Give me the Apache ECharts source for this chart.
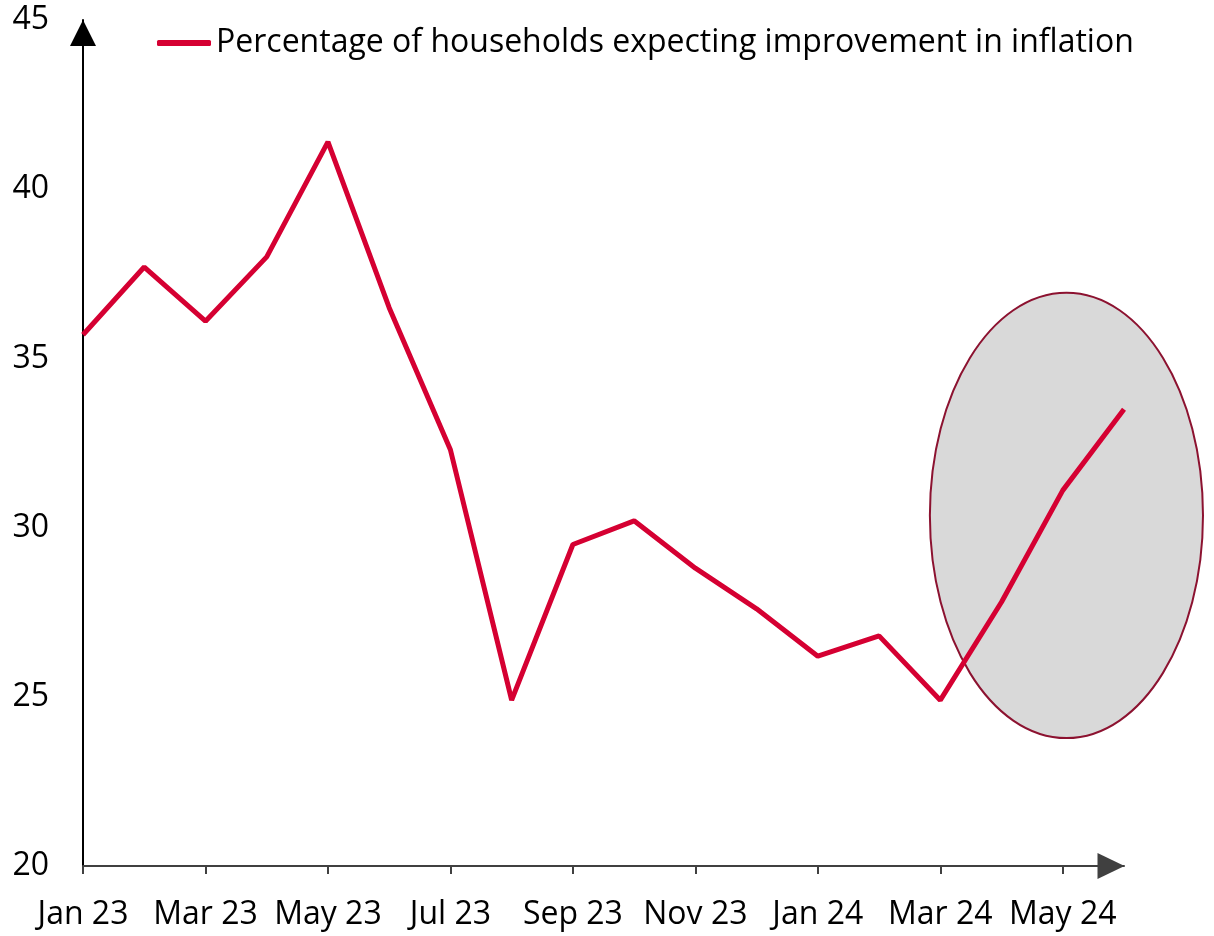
<!DOCTYPE html>
<html><head><meta charset="utf-8">
<script src="https://cdn.jsdelivr.net/npm/echarts@6/dist/echarts.min.js"></script>
<style>html,body{margin:0;padding:0;background:#fff}#c{width:1214px;height:936px}</style>
</head><body><div id="c"></div>
<script>
const categories = ['Jan 23','Feb 23','Mar 23','Apr 23','May 23','Jun 23','Jul 23','Aug 23','Sep 23','Oct 23','Nov 23','Dec 23','Jan 24','Feb 24','Mar 24','Apr 24','May 24','Jun 24'];
const values = [35.7,37.7,36.1,38.0,41.4,36.5,32.3,24.9,29.5,30.2,28.8,27.6,26.2,26.8,24.9,27.8,31.1,33.5];
const seriesName = 'Percentage of households expecting improvement in inflation';
const yTicks = [20,25,30,35,40,45];
// highlight ellipse, in data units: centre (category index, value), radii
const ellipseCenter = [16.06, 30.36];
const ellipseRadius = [2.23, 6.58];

const FONT = '"Open Sans", sans-serif';
const chart = echarts.init(document.getElementById('c'));
const option = {
  animation: false,
  grid: {left: 83, right: 90, top: 20, bottom: 70, containLabel: false},
  legend: {
    left: 152, top: 22, itemWidth: 54, itemHeight: 6, itemGap: 10,
    icon: 'roundRect',
    textStyle: {fontFamily: FONT, fontSize: 32, color: '#000'},
    data: [seriesName]
  },
  xAxis: {
    type: 'category', data: categories, boundaryGap: false,
    axisLine: {lineStyle: {color: '#404040', width: 2}, symbol: ['none','triangle'], symbolSize: [26, 27], symbolOffset: [0, -13]},
    axisTick: {show: true, interval: 1, length: 8, lineStyle: {color: '#404040', width: 2}},
    axisLabel: {interval: 1, fontFamily: FONT, fontSize: 32, color: '#000', margin: 33},
    splitLine: {show: false}
  },
  yAxis: {
    type: 'value', min: 20, max: 45, interval: 5,
    axisLine: {show: true, lineStyle: {color: '#000', width: 2}, symbol: ['none','triangle'], symbolSize: [26, 26], symbolOffset: [0, -13]},
    axisTick: {show: false},
    axisLabel: {fontFamily: FONT, fontSize: 32, color: '#000', margin: 34, formatter: v => yTicks.includes(v) ? String(v) : ''},
    splitLine: {show: false}
  },
  series: [{
    name: seriesName, type: 'line', data: values, symbol: 'none', z: 5,
    lineStyle: {color: '#d50032', width: 5},
    itemStyle: {color: '#d50032'}
  }]
};
chart.setOption(option);
// category positions via the axis scale (interpolated for fractional indices)
const p0 = chart.convertToPixel({gridIndex: 0}, [0, ellipseCenter[1]]);
const p1 = chart.convertToPixel({gridIndex: 0}, [1, ellipseCenter[1] + ellipseRadius[1]]);
const step = p1[0] - p0[0];
const cx = p0[0] + ellipseCenter[0] * step;
const cy = p0[1];
chart.setOption({
  graphic: [{
    type: 'ellipse', z: 1,
    shape: {cx: cx, cy: cy, rx: ellipseRadius[0] * step, ry: Math.abs(p0[1] - p1[1])},
    style: {fill: '#d9d9d9', stroke: '#8c1230', lineWidth: 2}
  }]
});
</script></body></html>
